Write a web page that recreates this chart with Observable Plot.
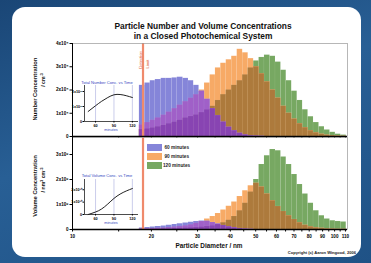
<!DOCTYPE html>
<html><head><meta charset="utf-8">
<script src="https://cdn.jsdelivr.net/npm/d3@7"></script>
<script src="https://cdn.jsdelivr.net/npm/@observablehq/plot@0.6"></script>
<style>
html,body{margin:0;padding:0;}
body{width:371px;height:263px;overflow:hidden;background:linear-gradient(160deg,#1a4676 0%,#285f95 45%,#1f5286 100%);font-family:"Liberation Sans",Arial,sans-serif;}
#wrap{position:relative;width:371px;height:263px;}
#panel{position:absolute;left:12px;top:7px;width:349px;height:250px;background:#fff;border-radius:13px;}
.abs{position:absolute;white-space:nowrap;}
.rot{position:absolute;white-space:nowrap;transform:translate(-50%,-50%) rotate(-90deg);}
</style></head>
<body><div id="wrap"><div id="panel"></div></div>
<script>
// ---- data ----
const binEdges = [18.0,18.9,19.8,20.7,21.8,22.8,24.0,25.1,26.4,27.7,29.0,30.4,31.9,33.5,35.1,36.8,38.6,40.5,42.5,44.6,46.8,49.1,51.5,54.0,56.7,59.5,62.4,65.4,68.6,72.0,75.5,79.2,83.1,87.2,91.5,96.0,100.7,105.6,110.8];
// number concentration (x10^4 /cm3)
const num60  = [2.2,2.3,2.4,2.45,2.5,2.5,2.52,2.55,2.5,2.4,2.2,1.95,1.6,1.2,0.9,0.62,0.4,0.25,0.14,0.07,0.03,0.02,0.01,0,0,0,0,0,0,0,0,0,0,0,0,0,0,0];
const num90  = [0.5,0.6,0.7,0.8,0.92,1.05,1.2,1.35,1.5,1.65,1.8,2.0,2.3,2.65,2.95,3.15,3.3,3.45,3.75,3.6,3.35,3.0,2.7,2.35,2.0,1.65,1.3,1.0,0.75,0.55,0.38,0.25,0.16,0.1,0.06,0.04,0.02,0.01];
const num120 = [0.3,0.33,0.37,0.42,0.48,0.55,0.62,0.7,0.8,0.86,0.93,1.03,1.15,1.3,1.55,1.8,2.0,2.2,2.4,2.65,2.95,3.25,3.4,3.5,3.45,3.2,2.85,2.4,1.95,1.55,1.15,0.85,0.6,0.42,0.28,0.18,0.1,0.06];
// volume concentration (x10^9 nm3/cm3)
const vol60  = [0.06,0.08,0.1,0.12,0.14,0.17,0.2,0.23,0.26,0.29,0.32,0.34,0.33,0.28,0.22,0.16,0.11,0.07,0.04,0.02,0.01,0,0,0,0,0,0,0,0,0,0,0,0,0,0,0,0,0];
const vol90  = [0.02,0.03,0.04,0.05,0.06,0.08,0.1,0.12,0.15,0.19,0.25,0.32,0.42,0.52,0.64,0.78,0.93,1.1,1.32,1.55,1.75,1.85,1.7,1.42,1.15,0.92,0.72,0.55,0.4,0.27,0.17,0.11,0.07,0.05,0.03,0.02,0.01,0.01];
const vol120 = [0.01,0.01,0.02,0.02,0.03,0.03,0.04,0.05,0.06,0.07,0.08,0.1,0.12,0.15,0.2,0.27,0.37,0.52,0.75,1.05,1.5,2.0,2.6,2.95,3.2,3.15,2.9,2.6,2.2,1.8,1.42,1.05,0.75,0.55,0.42,0.35,0.32,0.3];
// insets
const insetTimesN = [48,60,70,80,90,100,110,120];
const insetTotalN = [0.67,1.05,1.35,1.6,1.78,1.8,1.72,1.6];
const insetTimesV = [48,60,70,80,90,100,110,120];
const insetTotalV = [0.0,0.2,0.45,0.85,1.3,1.65,1.9,2.1];
const seriesNames = ["60 minutes","90 minutes","120 minutes"];
const xTicks = [10,15,20,25,30,35,40,45,50,55,60,65,70,75,80,85,90,95,100,105,110];
const xLabels = [10,20,30,40,50,60,70,80,90,100,110];
const numTicks = [0,1,2,3,4];
const volTicks = [0,1,2,3];
const limitD = 18.58;

// ---- style ----
const cBlue="#8585d9", cOrange="#f7aa66", cGreen="#77a862", cBrown="#ad7a3c", cPurple="#a060c8", cDark="#8844b2";
const seriesColors=[cBlue,cOrange,cGreen];
const FONT='"Liberation Sans", Arial, sans-serif';
const wrap=document.getElementById("wrap");
const rows = binEdges.slice(0,-1).map((x1,i)=>({x1,x2:binEdges[i+1],i}));

function layers(b,o,g){
  const L=[[cGreen,i=>g[i]],[cOrange,i=>o[i]],[cBlue,i=>b[i]],
    [cBrown,i=>Math.min(o[i],g[i])],[cPurple,i=>Math.min(b[i],o[i])],[cDark,i=>Math.min(b[i],o[i],g[i])]];
  return L.map(([fill,fy])=>Plot.rectY(rows,{x1:"x1",x2:"x2",y1:0,y2:d=>fy(d.i),fill,stroke:"#fff",strokeOpacity:0.12,strokeWidth:0.4}));
}
function place(el,left,topY){el.style.position="absolute";el.style.left=left+"px";el.style.top=topY+"px";wrap.appendChild(el);}
function sup(n){return String(n).split("").map(c=>"⁰¹²³⁴⁵⁶⁷⁸⁹"[+c]).join("");}

const xScale={type:"log",domain:[10,112]};
const topPlot = Plot.plot({
  width:371,height:137,marginLeft:72,marginRight:24,marginTop:43,marginBottom:1,
  x:xScale,y:{domain:[0,4]},
  style:{background:"transparent",fontFamily:FONT,fontSize:"4.5px",color:"#000",overflow:"visible"},
  marks:[
    ...layers(num60,num90,num120),
    Plot.ruleX([limitD],{stroke:"#ef8a6c",strokeWidth:2.2}),
    Plot.frame({stroke:"#999",strokeWidth:0.7}),
    Plot.ruleX([10],{stroke:"#000",strokeWidth:1}),
    Plot.ruleY([0],{stroke:"#000",strokeWidth:1.5}),
    Plot.axisY({ticks:numTicks,tickFormat:d=>d===0?"0":`${d}x10${sup(4)}`,tickSize:2.5,tickPadding:1.5,label:null,fontWeight:"bold",fontSize:4.6}),
    Plot.axisX({ticks:xTicks,tickFormat:()=>"",tickSize:2,label:null})
  ]});
place(topPlot,0,0);

const botPlot = Plot.plot({
  width:371,height:127,marginLeft:72,marginRight:24,marginTop:1,marginBottom:34,
  x:xScale,y:{domain:[0,3.68]},
  style:{background:"transparent",fontFamily:FONT,fontSize:"4.5px",color:"#000",overflow:"visible"},
  marks:[
    ...layers(vol60,vol90,vol120),
    Plot.ruleX([limitD],{stroke:"#ef8a6c",strokeWidth:2.2}),
    Plot.frame({stroke:"#999",strokeWidth:0.7}),
    Plot.ruleX([10],{stroke:"#000",strokeWidth:1}),
    Plot.ruleY([0],{stroke:"#000",strokeWidth:1.5}),
    Plot.axisY({ticks:volTicks,tickFormat:d=>d===0?"0":`${d}x10${sup(9)}`,tickSize:2.5,tickPadding:1.5,label:null,fontWeight:"bold",fontSize:4.6}),
    Plot.axisX({ticks:xTicks,tickFormat:d=>xLabels.includes(d)?String(d):"",tickSize:2.5,tickPadding:2.5,label:null,fontWeight:"bold",fontSize:4.6})
  ]});
place(botPlot,0,136);

function inset(times,vals,yDomain,yFmt,left,topY,h){
  const p=Plot.plot({
    width:70,height:h,marginLeft:14,marginRight:2,marginTop:1,marginBottom:10,
    x:{domain:[42,130]},y:{domain:yDomain},
    style:{background:"transparent",fontFamily:FONT,fontSize:"3.8px",color:"#000",overflow:"visible"},
    marks:[
      Plot.ruleX([60,90,120],{stroke:"#b4b8e2",strokeWidth:0.7}),
      Plot.ruleX([42],{stroke:"#000",strokeWidth:0.7}),
      Plot.ruleY([yDomain[0]],{stroke:"#000",strokeWidth:0.7}),
      Plot.line(vals,{x:(d,i)=>times[i],y:d=>d,curve:"natural",stroke:"#222",strokeWidth:1}),
      Plot.axisY({ticks:[0,1,2],tickFormat:yFmt,tickSize:1.5,tickPadding:1,label:null,fontWeight:"bold",fontSize:3.8}),
      Plot.axisX({ticks:[60,90,120],tickSize:1.5,tickPadding:1,label:null,fontWeight:"bold",fontSize:3.8})
    ]});
  place(p,left,topY);
}
inset(insetTimesN,insetTotalN,[0,2.4],d=>d===0?"0":`${d}x10${sup(5)}`,70,84,47);
inset(insetTimesV,insetTotalV,[0,2.83],d=>d===0?"0":`${d}x10${sup(10)}`,70,178,46);

function txt(html,css){const d=document.createElement("div");d.className="abs";d.innerHTML=html;d.style.cssText+=css;wrap.appendChild(d);return d;}
function rot(html,cx,cy,css){const d=document.createElement("div");d.className="rot";d.innerHTML=html;d.style.left=cx+"px";d.style.top=cy+"px";d.style.cssText+=css;wrap.appendChild(d);return d;}

// titles
txt("Particle Number and Volume Concentrations<br>in a Closed Photochemical System",
  "left:93px;top:22px;width:220px;text-align:center;font-weight:bold;font-size:8.4px;line-height:9.5px;color:#111;");
txt("Particle Diameter / nm","left:159px;top:242px;width:100px;text-align:center;font-weight:bold;font-size:6.4px;color:#111;");
txt("Copyright (c) Aaron Wingood, 2006","left:255px;top:250px;width:101px;text-align:right;font-weight:bold;font-size:4.1px;color:#222;");
rot("Number Concentration",35,89,"font-weight:bold;font-size:5.8px;color:#111;");
rot("/ cm<sup style='font-size:3.6px'>-3</sup>",43,80,"font-weight:bold;font-size:5.2px;color:#111;");
rot("Volume Concentration",35,186,"font-weight:bold;font-size:5.8px;color:#111;");
rot("/ nm<sup style='font-size:3.6px'>3</sup> cm<sup style='font-size:3.6px'>-3</sup>",43,180,"font-weight:bold;font-size:5.2px;color:#111;");
rot("Detection",139.5,60,"font-size:4.2px;color:#e0603c;");
rot("Limit",146.5,64,"font-size:4.2px;color:#e0603c;");
// inset labels
txt("Total Number Conc. vs Time","left:72px;top:80px;width:70px;text-align:center;font-size:4.1px;color:#3646c0;");
txt("minutes","left:96px;top:127.5px;width:30px;text-align:center;font-size:3.8px;color:#3646c0;");
txt("Total Volume Conc. vs Time","left:72px;top:173px;width:70px;text-align:center;font-size:4.1px;color:#3646c0;");
txt("minutes","left:96px;top:221px;width:30px;text-align:center;font-size:3.8px;color:#3646c0;");
// legend
seriesNames.forEach((n,k)=>{
  const y=144+k*9;
  txt("",`left:147px;top:${y}px;width:15px;height:7px;background:${seriesColors[k]};`);
  txt(n,`left:163px;top:${y}px;width:26px;text-align:right;font-size:4.7px;line-height:7px;font-weight:bold;color:#222;`);
});
</script></body></html>
